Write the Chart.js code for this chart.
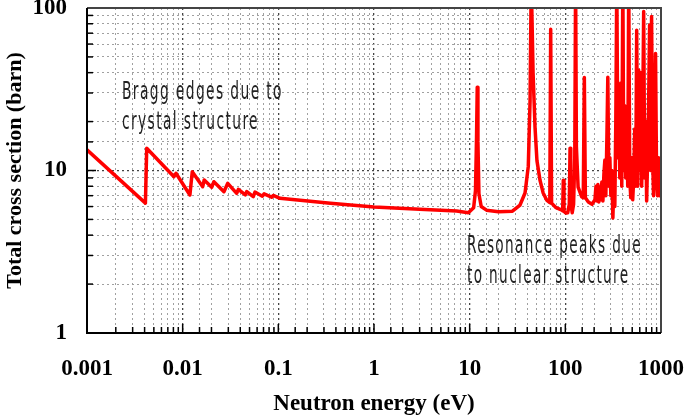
<!DOCTYPE html>
<html>
<head>
<meta charset="utf-8">
<script src="https://cdn.jsdelivr.net/npm/chart.js@4/dist/chart.umd.min.js"></script>
<style>
  html, body { margin: 0; padding: 0; background: #fff; }
  #wrap { width: 685px; height: 418px; }
</style>
</head>
<body>
<div id="wrap"><canvas id="xs"></canvas></div>
<script>
// neutron energy (eV)
const energy = [
  0.001, 0.00408, 0.00421, 0.00811, 0.00851, 0.0119, 0.0126, 0.0162, 0.0168, 0.0201,
  0.0212, 0.027, 0.0296, 0.0367, 0.0382, 0.0452, 0.0468, 0.0547, 0.057, 0.068,
  0.071, 0.085, 0.0885, 0.104, 0.35, 1.0, 3.0, 7.3, 9.7, 11.0,
  11.5, 11.8, 12.0, 12.2, 12.5, 13.2, 15, 20, 28, 33.6,
  37.9, 41.0, 42.8, 44.0, 46.0, 48.2, 50.5, 54.3, 58.5, 63.8,
  68.8, 70.3, 71.8, 80, 92, 93.8, 95.2, 96.8, 101.6, 106,
  110, 112, 114, 118, 122, 125.5, 128, 130.5, 136, 148,
  154, 158, 162, 174, 190,
  204, 209, 214, 219, 224, 230, 235, 241, 247, 253,
  259, 265, 272, 278, 285, 292, 299, 306, 314, 321,
  329, 337, 345, 354, 362, 371, 380, 389, 399, 408,
  418, 428, 439, 449, 460, 471, 483, 494, 506, 519,
  531, 544, 557, 571, 584, 598, 613, 628, 643, 659,
  675, 691, 708, 725, 742, 760, 779, 797, 817, 836,
  857, 877, 899, 920, 943, 965, 1000
];
// total cross section (barn)
const crossSection = [
  13.4, 6.3, 13.7, 9.16, 9.61, 7.07, 9.84, 7.95, 8.74, 7.88,
  8.53, 7.4, 8.34, 7.24, 7.66, 7.08, 7.42, 6.9, 7.37, 6.95,
  7.18, 6.85, 7.02, 6.74, 6.28, 5.97, 5.78, 5.63, 5.5, 5.9,
  7.5, 16, 32.5, 15, 7.2, 6.0, 5.7, 5.58, 5.62, 6.13,
  7.27, 10.6, 27, 150, 40, 18.5, 11.5, 8.74, 7.3, 6.58,
  6.35, 74, 6.3, 5.9, 5.7, 5.65, 8.7, 5.6, 5.47, 5.5,
  6.2, 13.7, 6.3, 5.5, 6.2, 12, 150, 14, 7.9, 6.9,
  6.8, 37.3, 6.8, 6.4, 6.2,
  6.6, 8.0, 6.5, 8.2, 6.4, 7.9, 6.6, 8.5, 6.5, 9.5,
  11.6, 7.0, 16, 37.5, 8.0, 12, 7.0, 10, 5.1, 8.0,
  6.0, 20, 150, 12, 30, 9, 34.5, 8, 150, 10,
  25, 9, 19, 8, 150, 9, 6.8, 12, 6.6, 9,
  18, 8, 73, 8, 41.5, 10, 40, 8, 20, 95,
  9, 20, 6.5, 12, 25, 78.6, 10, 88.5, 12, 7,
  16, 52.5, 9, 7, 12, 7, 11.6
];

const xTicks = [0.001, 0.01, 0.1, 1, 10, 100, 1000];
const yTicks = [1, 10, 100];

// annotation text, anchored in data units (left edge, first baseline)
const noteLines = [
  ["Bragg edges due to", "crystal structure"],
  ["Resonance peaks due", "to nuclear structure"]
];
const noteAnchorE = [0.00232, 9.37];
const noteAnchorS = [27.5, 3.11];
const noteWidth = [161, 175];

const isDecade = v => Math.abs(Math.log10(v) - Math.round(Math.log10(v))) < 1e-6;
const tickFont = { family: "'Liberation Serif', 'Times New Roman', serif", size: 23, weight: "bold" };

const points = energy.map((e, i) => ({ x: e, y: crossSection[i] }));

const frame = {
  id: "frame",
  afterDatasetsDraw(chart) {
    const { ctx, chartArea: a } = chart;
    const sx = chart.scales.x, sy = chart.scales.y;
    ctx.save();
    // inward tick marks
    ctx.strokeStyle = "#000";
    ctx.lineWidth = 1.5;
    sx.ticks.forEach(t => {
      const px = sx.getPixelForValue(t.value);
      const len = isDecade(t.value) ? 9 : 6;
      ctx.beginPath();
      ctx.moveTo(px, a.bottom);
      ctx.lineTo(px, a.bottom - len);
      ctx.stroke();
    });
    sy.ticks.forEach(t => {
      const py = sy.getPixelForValue(t.value);
      const len = isDecade(t.value) ? 9 : 6;
      ctx.beginPath();
      ctx.moveTo(a.left, py);
      ctx.lineTo(a.left + len, py);
      ctx.stroke();
    });
    // box
    ctx.lineWidth = 2;
    ctx.strokeStyle = "#444";
    ctx.beginPath();
    ctx.moveTo(a.left, a.top);
    ctx.lineTo(a.right, a.top);
    ctx.lineTo(a.right, a.bottom);
    ctx.stroke();
    ctx.strokeStyle = "#000";
    ctx.beginPath();
    ctx.moveTo(a.left, a.top);
    ctx.lineTo(a.left, a.bottom);
    ctx.lineTo(a.right, a.bottom);
    ctx.stroke();

    // notes, drawn narrow like the original condensed face
    ctx.fillStyle = "#222";
    ctx.font = "22px 'DejaVu Sans Condensed', 'DejaVu Sans', sans-serif";
    ctx.letterSpacing = "2px";
    ctx.textBaseline = "alphabetic";
    noteLines.forEach((lines, k) => {
      const x0 = sx.getPixelForValue(noteAnchorE[k]);
      const y0 = sy.getPixelForValue(noteAnchorS[k]);
      const k1 = noteWidth[k] / ctx.measureText(lines[0]).width;
      lines.forEach((txt, j) => {
        ctx.save();
        ctx.translate(x0, y0 + j * 30);
        ctx.scale(k1, 1.12);
        ctx.fillText(txt, 0, 0);
        ctx.restore();
      });
    });
    ctx.restore();
  }
};

const gridOpts = {
  drawTicks: false,
  color: c => (c.tick && isDecade(c.tick.value) ? "#444" : "#a0a0a0"),
  lineWidth: c => (c.tick && isDecade(c.tick.value) ? 1.3 : 1)
};

new Chart(document.getElementById("xs"), {
  type: "scatter",
  data: {
    datasets: [{
      data: points,
      showLine: true,
      borderColor: "#ff0000",
      borderWidth: 3.5,
      borderJoinStyle: "round",
      pointRadius: 0,
      tension: 0
    }]
  },
  options: {
    responsive: true,
    maintainAspectRatio: false,
    animation: false,
    layout: { padding: 0 },
    plugins: { legend: { display: false }, tooltip: { enabled: false } },
    scales: {
      x: {
        type: "logarithmic",
        min: 0.001,
        max: 1000,
        afterFit: s => { s.height = 85; s.paddingRight = 24; s.paddingLeft = 0; },
        ticks: {
          autoSkip: false,
          maxRotation: 0,
          padding: 22,
          color: "#000",
          font: tickFont,
          callback: v => (xTicks.some(t => Math.abs(t - v) / t < 1e-6) ? String(v) : "")
        },
        grid: gridOpts,
        border: { display: false, dash: [2, 3] },
        title: {
          display: true,
          text: "Neutron energy (eV)",
          color: "#000",
          font: tickFont,
          padding: { top: 0, bottom: 0 }
        }
      },
      y: {
        type: "logarithmic",
        min: 1,
        max: 100,
        afterFit: s => { s.width = 87; s.paddingTop = 8; s.paddingBottom = 0; },
        ticks: {
          autoSkip: false,
          padding: 20,
          color: "#000",
          font: tickFont,
          callback: v => (yTicks.some(t => Math.abs(t - v) / t < 1e-6) ? String(v) : "")
        },
        grid: gridOpts,
        border: { display: false, dash: [2, 3] },
        title: {
          display: true,
          text: "Total cross section (barn)",
          color: "#000",
          font: { family: tickFont.family, size: 22, weight: "bold" },
          padding: { top: 2, bottom: 0 }
        }
      }
    }
  },
  plugins: [frame]
});
</script>
</body>
</html>
